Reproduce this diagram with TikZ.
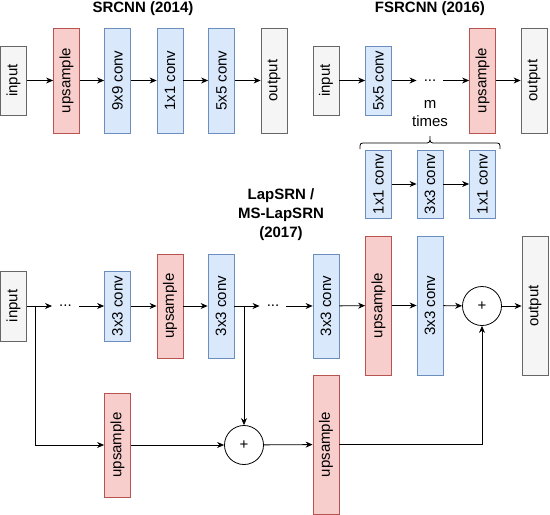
\documentclass[tikz,border=0pt]{standalone}
\usepackage{fontspec}
\setmainfont{Liberation Sans}
\usetikzlibrary{arrows.meta,calc}
\definecolor{pinkfill}{HTML}{F8CECC}
\definecolor{pinkdraw}{HTML}{B85450}
\definecolor{bluefill}{HTML}{DAE8FC}
\definecolor{bluedraw}{HTML}{6C8EBF}
\definecolor{greyfill}{HTML}{F5F5F5}
\definecolor{greydraw}{HTML}{666666}
\begin{document}
\begin{tikzpicture}[x=1pt,y=-1pt,
  every node/.style={font=\fontsize{15}{18}\selectfont},
  box/.style={rectangle, inner sep=0pt, minimum width=26pt, line width=0.8pt},
  pinkbox/.style={box, fill=pinkfill, draw=pinkdraw},
  bluebox/.style={box, fill=bluefill, draw=bluedraw},
  greybox/.style={box, fill=greyfill, draw=greydraw},
  sm/.style={minimum height=69pt},
  md/.style={minimum height=105pt},
  lg/.style={minimum height=139pt},
  plusnode/.style={circle, draw, line width=0.8pt, minimum size=39pt, inner sep=0pt},
  dotsnode/.style={inner xsep=7pt, inner ysep=0pt, text height=1.5pt, text depth=0pt},
  arr/.style={-{Stealth[length=7pt,width=6pt]}, line width=0.8pt},
  ttl/.style={font=\fontsize{15}{19}\selectfont\bfseries, align=center}
]
\useasboundingbox (0,0) rectangle (550,515);

% ---------------- SRCNN ----------------
\node[ttl] (t1) at (143,9) {SRCNN (2014)};
\node[greybox, sm] (in1) at (13.5,80.5) {\rotatebox{90}{input}};
\node[pinkbox, md] (up1) at (66.5,80.5) {\rotatebox{90}{upsample}};
\node[bluebox, md] (c91) at (117.5,80.5) {\rotatebox{90}{9x9 conv}};
\node[bluebox, md] (c11) at (170,80.5) {\rotatebox{90}{1x1 conv}};
\node[bluebox, md] (c55) at (221.5,80.5) {\rotatebox{90}{5x5 conv}};
\node[greybox, md] (out1) at (274,80.5) {\rotatebox{90}{output}};
\draw[arr] (in1) -- (up1);
\draw[arr] (up1) -- (c91);
\draw[arr] (c91) -- (c11);
\draw[arr] (c11) -- (c55);
\draw[arr] (c55) -- (out1);

% ---------------- FSRCNN ----------------
\node[ttl] (t2) at (430,9) {FSRCNN (2016)};
\node[greybox, sm] (in2) at (326,80.5) {\rotatebox{90}{input}};
\node[bluebox, sm] (c55b) at (378.5,80.5) {\rotatebox{90}{5x5 conv}};
\node[dotsnode] (fd) at (430,80.5) {...};
\node[pinkbox, md] (up2) at (482.5,80.5) {\rotatebox{90}{upsample}};
\node[greybox, md] (out2) at (534,80.5) {\rotatebox{90}{output}};
\node[align=center] (mt) at (430,114) {m\\times};
\draw[arr] (in2) -- (c55b);
\draw[arr] (c55b) -- (fd);
\draw[arr] (fd) -- (up2);
\draw[arr] (up2) -- (out2);
\draw[line width=0.8pt] (360,149) .. controls (360,143) .. (366,143) -- (424,143)
  .. controls (430,143) .. (430,136) .. controls (430,143) .. (436,143) -- (494,143)
  .. controls (500,143) .. (500,149);
\node[bluebox, minimum height=68pt] (s1) at (378.5,184) {\rotatebox{90}{1x1 conv}};
\node[bluebox, minimum height=68pt] (s2) at (430,184) {\rotatebox{90}{3x3 conv}};
\node[bluebox, minimum height=68pt] (s3) at (482.5,184) {\rotatebox{90}{1x1 conv}};
\draw[arr] (s1) -- (s2);
\draw[arr] (s2) -- (s3);

% ---------------- LapSRN ----------------
\node[ttl] (t3) at (281,215) {LapSRN /\\MS-LapSRN\\(2017)};
\node[greybox, minimum height=70pt] (in3) at (13.5,306) {\rotatebox{90}{input}};
\node[dotsnode] (d1) at (65.5,306) {...};
\node[bluebox, minimum height=70pt] (c33a) at (117.5,306) {\rotatebox{90}{3x3 conv}};
\node[pinkbox, minimum height=104pt] (up3) at (170,306) {\rotatebox{90}{upsample}};
\node[bluebox, minimum height=104pt] (c33b) at (221,306) {\rotatebox{90}{3x3 conv}};
\node[dotsnode] (d2) at (273,306) {...};
\node[bluebox, minimum height=104pt] (c33c) at (326,306) {\rotatebox{90}{3x3 conv}};
\node[pinkbox, lg] (up4) at (378.5,305.5) {\rotatebox{90}{upsample}};
\node[bluebox, lg] (c33d) at (430,305.5) {\rotatebox{90}{3x3 conv}};
\node[plusnode] (p1) at (482,306) {+};
\node[greybox, lg] (out3) at (535,306) {\rotatebox{90}{output}};

\coordinate (b1) at (35,306);
\coordinate (b2) at (244,306);

\node[pinkbox, minimum height=104pt] (up5) at (117.5,445) {\rotatebox{90}{upsample}};
\node[plusnode] (p2) at (244,445) {+};
\node[pinkbox, lg] (up6) at (326,444.5) {\rotatebox{90}{upsample}};

\draw[arr] (in3) -- (d1);
\draw[arr] (d1) -- (c33a);
\draw[arr] (c33a) -- (up3);
\draw[arr] (up3) -- (c33b);
\draw[arr] (c33b) -- (d2);
\draw[arr] (d2) -- (c33c);
\draw[arr] (c33c) -- (up4);
\draw[arr] (up4) -- (c33d);
\draw[arr] (c33d) -- (p1);
\draw[arr] (p1) -- (out3);

\draw[arr] (b1) |- (up5);
\draw[arr] (b2) -- (p2);
\draw[arr] (up5) -- (p2);
\draw[arr] (p2) -- (up6);
\draw[arr] (up6) -| (p1);
\end{tikzpicture}
\end{document}
